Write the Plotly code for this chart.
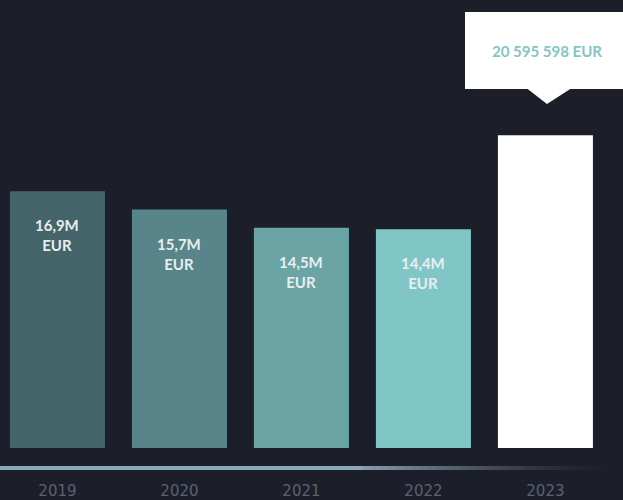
import plotly.graph_objects as go

years = ["2019", "2020", "2021", "2022", "2023"]
revenue_eur = [16.9e6, 15.7e6, 14.5e6, 14.4e6, 20595598]
bar_labels = ["16,9M<br>EUR", "15,7M<br>EUR", "14,5M<br>EUR", "14,4M<br>EUR", ""]
callout_text = "20 595 598 EUR"

bar_colors = ["#456469", "#588589", "#6aa4a5", "#81c6c7", "#ffffff"]
BG = "#1c1f29"
W, H = 623, 500
PLOT_H = 448

fig = go.Figure()
fig.add_trace(go.Bar(
    x=years, y=revenue_eur,
    marker=dict(color=bar_colors, line=dict(width=0)),
    width=0.779, hoverinfo="skip",
))

# labels inside bars
for i, (v, lab) in enumerate(zip(revenue_eur, bar_labels)):
    if lab:
        fig.add_annotation(
            x=i, y=v, xref="x", yref="y", text=f"<b>{lab}</b>",
            showarrow=False, xanchor="center", yanchor="top", yshift=-23,
            font=dict(family="Lato", size=15, color="#e8eef0"),
        )

# callout box above the last bar
def py(p):
    return (PLOT_H - p) / PLOT_H

fig.add_shape(type="rect", xref="paper", yref="paper",
              x0=465 / W, x1=1.0, y0=py(89), y1=py(12),
              fillcolor="#ffffff", line=dict(width=0), layer="above")
fig.add_shape(type="path", xref="paper", yref="paper",
              path=f"M {527/W} {py(88.5)} L {571/W} {py(88.5)} L {547/W} {py(104)} Z",
              fillcolor="#ffffff", line=dict(width=0), layer="above")
fig.add_annotation(x=546.5 / W, y=py(50.5), xref="paper", yref="paper",
                   text=f"<b>{callout_text}</b>", showarrow=False,
                   xanchor="center", yanchor="middle",
                   font=dict(family="Lato", size=15, color="#7fc6c7"))

# gradient baseline
def hexrgb(h):
    h = h.lstrip("#")
    return [int(h[i:i + 2], 16) for i in (0, 2, 4)]

c1 = hexrgb("#8a9dab")
x_solid, x_end = 362, 610
fig.add_shape(type="rect", xref="paper", yref="paper",
              x0=0, x1=x_solid / W, y0=py(470), y1=py(466),
              fillcolor="#8ca9b5", line=dict(width=0), layer="below")
n = 62
step = (x_end - x_solid) / n
for i in range(n):
    xa = x_solid + i * step
    xb = xa + step
    xm = (xa + xb) / 2
    op = max(0.0, 1 - (xm - x_solid) / (x_end - x_solid)) ** 1.4
    fig.add_shape(type="rect", xref="paper", yref="paper",
                  x0=xa / W, x1=xb / W, y0=py(470), y1=py(466),
                  fillcolor=f"rgba({c1[0]},{c1[1]},{c1[2]},{op:.3f})",
                  line=dict(width=0), layer="below")

fig.update_layout(
    width=W, height=H,
    margin=dict(l=0, r=0, t=0, b=H - PLOT_H),
    paper_bgcolor=BG, plot_bgcolor=BG,
    showlegend=False,
    xaxis=dict(
        type="category", range=[-0.471, 4.636],
        showgrid=False, zeroline=False, showline=False, ticks="",
        tickfont=dict(family="DejaVu Sans", size=15, color="#5b6270"),
        ticklabelstandoff=32, fixedrange=True,
    ),
    yaxis=dict(range=[0, 29.5e6], visible=False, fixedrange=True),
)

fig.write_html(
    "out.html",
    config={"displayModeBar": False},
    post_script="document.body.style.margin='0';document.body.style.background='#1c1f29';",
)
